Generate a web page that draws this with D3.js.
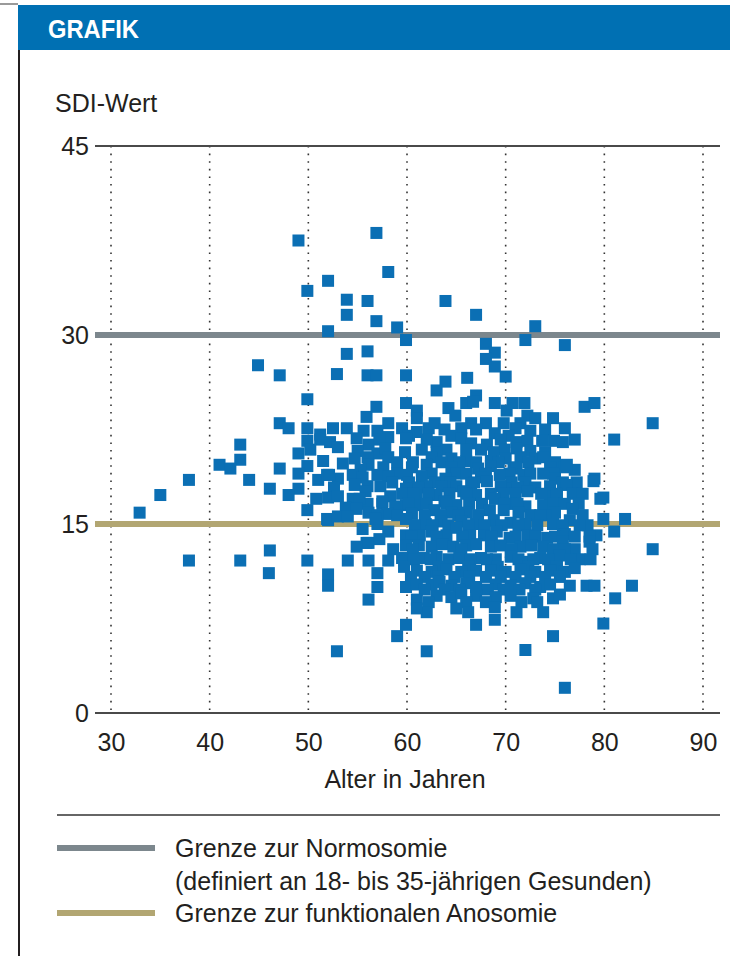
<!DOCTYPE html>
<html><head><meta charset="utf-8">
<script src="https://cdn.jsdelivr.net/npm/d3@7"></script>
<style>
html,body{margin:0;padding:0;background:#fff;}
svg{display:block;}
text{font-family:"Liberation Sans","Arial",sans-serif;fill:#231f20;}
</style></head>
<body>
<svg id="chart" width="730" height="956"></svg>
<script>
// ---- data ----
const title = "GRAFIK";
const yAxisTitle = "SDI-Wert";
const xAxisTitle = "Alter in Jahren";
const xTicks = [30, 40, 50, 60, 70, 80, 90];
const yTicks = [0, 15, 30, 45];
const thresholdNormosmie = 30;
const thresholdAnosmie = 15;
const legendLabels = [
  ["Grenze zur Normosomie", "(definiert an 18- bis 35-jährigen Gesunden)"],
  ["Grenze zur funktionalen Anosomie"]
];
// [age, SDI]
const upperPoints = [
  [49.0,37.5],[56.9,38.1],[58.1,35.0],[52.0,34.3],[49.9,33.5],[53.9,32.8],[56.0,32.7],[63.9,32.7],
  [53.9,31.6],[67.0,31.6],[56.9,31.1],[59.0,30.6],[52.0,30.3],[73.0,30.7],[59.9,29.6],[68.0,29.3],
  [72.0,29.6],[76.0,29.2],[68.9,28.6],[53.9,28.5],[56.0,28.7],[68.0,28.1],[44.9,27.6],[68.9,27.5],
  [52.9,26.9],[47.1,26.8],[56.0,26.8],[56.9,26.8],[59.9,26.8],[70.0,26.7],[66.1,26.6],[63.9,26.3],
  [63.0,25.6],[67.0,25.2],[49.9,24.9]
];
const midPoints = [
  [56.9,24.3],[59.9,24.6],[61.0,24.0],[66.0,24.6],[66.7,24.7],[68.9,24.6],[70.1,24.0],[70.7,24.6],[71.9,24.6],[78.0,24.3],[79.0,24.6],
  [64.2,24.2],[72.2,23.6],
  [47.1,23.0],[55.9,23.5],[58.1,23.0],[61.0,23.4],[62.2,22.6],[64.9,23.6],[73.0,23.4],[74.8,23.4],[84.9,23.0],
  [62.8,23.0],[66.5,23.0],[68.0,23.0],[69.8,23.0],[71.5,23.0],
  [48.0,22.6],[49.9,22.6],[51.2,22.1],[53.9,22.6],[67.0,22.5],[68.9,22.2],[71.0,22.6],[76.0,22.6],
  [57.0,22.4],[59.5,22.6],[63.8,22.5],[65.5,22.6],[72.5,22.4],[74.0,22.5],[61.0,22.3],[52.5,22.6],[55.6,22.4],
  [60.2,22.0],[64.5,22.0],[70.3,22.0],
  [43.1,21.3],[49.9,21.6],[51.2,21.7],[54.9,21.8],[56.1,21.3],[58.1,21.9],[59.9,21.8],[63.0,21.5],[68.1,21.3],
  [71.1,21.5],[73.7,21.6],[74.9,21.6],[77.0,21.7],[81.0,21.7],
  [62.0,21.7],[65.5,21.8],[66.5,21.4],[69.5,21.7],[72.2,21.6],[75.8,21.5],[52.2,21.5],[57.2,21.7],
  [53.0,21.1],[64.0,20.9],[66.0,20.9],[69.9,20.9],[71.1,21.0],[49.0,20.6],[50.2,20.9],
  [67.5,20.9],[72.5,20.8],[61.5,20.9],[57.0,20.6],[55.0,20.8],[57.8,21.0],
  [59.8,20.7],[63.0,20.7],[68.8,20.7],[74.0,20.7],
  [43.1,20.1],[54.7,20.2],[58.1,20.3],[59.0,19.9],[73.0,20.2],[73.8,20.3],[41.0,19.7],
  [66.0,20.0],[68.5,20.0],[70.0,20.2],[71.5,20.3],[62.5,20.3],[64.5,20.2],[56.0,20.3],[51.5,20.0],[53.5,19.8],
  [60.6,19.9],[63.5,19.9],[65.3,19.9],[67.0,19.9],[69.3,19.9],[72.3,19.9],[75.0,19.9],
  [42.1,19.4],[47.1,19.4],[56.1,19.7],[62.0,19.7],[67.2,19.4],[70.8,19.4],[71.1,19.5],[76.0,19.5],[77.0,19.3],[76.2,19.7],[49.9,19.6],
  [60.5,19.5],[64.5,19.5],[68.5,19.6],[74.5,19.5],[55.3,19.3],[57.6,19.5],
  [59.0,19.0],[62.5,19.0],[65.0,19.0],[68.0,19.0],[70.4,19.0],[74.8,19.0],
  [44.0,18.5],[37.9,18.5],[49.0,19.0],[51.0,18.5],[51.9,18.9],[53.0,18.6],[57.0,18.9],[58.1,18.8],[60.0,18.9],[61.5,18.8],
  [63.9,18.6],[66.0,19.0],[69.4,18.9],[71.8,18.9],[72.5,19.0],[73.8,19.0],[79.0,18.6],[52.1,18.9],
  [67.5,18.7],[54.5,18.9],[55.5,18.7],[75.0,18.6],[58.5,18.3],
  [60.2,18.3],[62.8,18.3],[64.4,18.3],[66.8,18.3],[70.6,18.3],[72.0,18.3],[75.8,18.3],[77.2,18.3],
  [46.1,17.8],[49.0,17.8],[54.7,18.1],[56.0,18.0],[59.9,17.8],[62.0,18.0],[65.0,18.0],[68.1,18.4],[76.2,18.1],[78.9,18.4],[70.0,17.8],[48.0,17.3],
  [57.3,18.0],[61.2,17.9],[63.5,18.0],[66.5,18.2],[69.5,18.0],[71.2,17.9],[73.0,17.9],[74.5,18.0],[52.6,17.9],
  [35.0,17.3],[52.0,17.1],[55.8,17.6],[58.3,17.2],[61.0,17.3],[65.7,17.6],[67.0,17.3],[72.2,17.6],[79.9,17.1],[53.0,17.2],[63.0,17.3],[74.5,17.2],
  [59.5,17.4],[60.7,17.4],[62.2,17.4],[64.3,17.4],[66.0,17.4],[68.5,17.4],[69.8,17.4],[71.0,17.4],[73.6,17.4],[75.2,17.4],[76.8,17.4],[77.8,17.4],
  [54.5,17.0],[49.9,16.1],[58.8,16.4],[59.9,16.5],[63.8,16.8],[65.0,16.5],[68.9,17.0],[73.8,16.5],[79.6,17.0],[56.0,16.6],[61.0,16.5],[70.5,16.6],[72.0,16.4],
  [55.2,17.0],[57.5,16.8],[50.8,17.0],[53.8,16.3],
  [57.5,16.6],[60.2,16.6],[62.0,16.6],[64.0,16.6],[66.3,16.6],[67.6,16.6],[69.9,16.6],[71.2,16.6],[74.8,16.6],[76.0,16.6],[77.4,16.6],
  [32.9,15.9],[54.9,16.2],[56.1,15.9],[62.8,16.1],[66.0,15.9],[68.4,16.1],[69.8,16.1],[71.3,15.9],[76.8,16.2],[58.0,15.8],[60.5,15.8],[64.5,15.9],[75.0,15.9]
];
const lowerPoints = [
  [59.0,15.7],[61.8,15.7],[63.4,15.7],[65.2,15.7],[67.2,15.7],[72.5,15.7],[74.0,15.7],[77.8,15.7],[57.0,15.7],
  [51.9,15.4],[52.0,15.3],[53.0,15.6],[54.0,15.6],[59.9,15.4],[61.9,15.0],[73.5,15.7],[76.5,15.3],[79.9,15.4],[82.1,15.4],
  [57.0,15.0],[63.5,15.2],[65.5,15.2],[67.0,15.0],[68.8,15.3],[70.5,15.1],[72.0,15.0],[74.8,15.0],[56.8,15.4],
  [60.8,14.9],[62.6,14.9],[64.2,14.9],[66.2,14.9],[67.9,14.9],[69.6,14.9],[71.3,14.9],[73.2,14.9],[75.8,14.9],[78.3,14.9],
  [58.1,14.4],[61.3,14.1],[64.0,14.1],[65.0,14.7],[59.9,14.1],[66.4,14.1],[67.8,14.1],[69.1,14.4],[70.4,13.9],[72.2,14.1],
  [74.2,13.9],[77.5,14.9],[79.2,14.1],[81.0,14.4],[78.5,14.0],[62.5,14.4],[76.0,14.2],[55.5,14.6],
  [60.5,14.0],[63.0,14.0],[65.6,14.0],[68.6,14.0],[71.0,14.0],[73.0,14.0],[75.0,14.0],[77.0,14.0],
  [55.9,13.5],[54.9,13.2],[59.9,13.3],[75.8,13.6],[78.5,13.6],[84.9,13.0],[61.2,13.3],[62.5,13.2],[63.6,13.4],[64.7,13.2],
  [66.0,13.3],[67.0,13.4],[68.5,13.2],[69.5,13.3],[71.5,13.2],[72.6,13.3],[73.8,13.2],[77.0,13.0],[56.1,13.5],
  [57.2,13.8],[58.6,13.0],
  [60.6,13.0],[65.5,13.0],[70.6,13.0],[74.8,13.0],[76.0,13.0],[78.8,13.0],
  [46.1,12.9],[37.9,12.1],[43.1,12.1],[49.9,12.1],[54.0,12.1],[56.1,12.1],[58.1,12.1],[59.5,12.3],[61.7,12.3],[63.0,12.4],
  [64.2,12.2],[65.3,12.3],[67.5,12.3],[69.0,12.2],[70.5,12.4],[73.5,12.3],[77.5,12.2],[72.0,12.0],[75.5,12.5],
  [60.7,12.2],[62.4,12.2],[66.4,12.2],[68.1,12.2],[71.3,12.2],[72.8,12.2],[74.3,12.2],[76.6,12.2],[78.6,12.2],
  [59.7,11.6],[63.2,11.6],[66.2,11.6],[69.2,11.6],[72.3,11.6],[75.2,11.6],
  [46.0,11.1],[52.0,11.0],[57.0,11.1],[61.0,11.3],[62.5,11.2],[64.0,11.4],[65.5,11.2],[67.0,11.3],[68.5,11.3],[70.0,11.2],
  [71.5,11.4],[73.0,11.2],[74.5,11.3],[76.0,11.2],[77.0,11.5],
  [60.4,10.8],[61.8,10.8],[63.2,10.8],[64.8,10.8],[66.3,10.8],[68.0,10.8],[69.5,10.8],[71.0,10.8],[72.5,10.8],[74.0,10.8],[75.5,10.8],
  [52.0,10.1],[57.0,10.0],[59.9,10.0],[61.0,10.2],[62.5,10.2],[64.5,10.1],[66.0,10.3],[67.0,10.0],[69.0,10.2],[70.5,10.1],
  [72.0,10.3],[73.5,10.0],[74.5,10.2],[76.5,10.1],[78.2,10.1],[79.0,10.1],[82.8,10.1],[63.3,10.4],
  [61.8,9.8],[63.8,9.8],[65.3,9.8],[68.2,9.8],[69.8,9.8],[71.4,9.8],[73.0,9.8],
  [56.1,9.0],[61.0,9.0],[63.0,9.3],[64.5,9.2],[67.0,9.3],[69.0,9.2],[70.5,9.3],[72.8,9.1],[74.8,9.1],[75.5,9.4],[81.1,9.1],[65.5,9.5],
  [62.2,8.8],[66.0,8.8],[68.0,8.8],[71.6,8.8],[73.2,8.8],
  [62.0,8.0],[61.0,8.3],[65.0,8.3],[66.2,8.0],[68.9,8.4],[71.1,8.0],[73.8,8.0],
  [59.9,7.0],[67.0,7.0],[68.9,7.4],[79.9,7.1],
  [59.0,6.1],[74.8,6.1],
  [52.9,4.9],[62.0,4.9],[72.0,5.0],
  [76.0,2.0]
];
const points = upperPoints.concat(midPoints, lowerPoints);

// ---- colours ----
const headerBlue = "#0070b3";
const markerBlue = "#0b6fb4";
const grayLine = "#7c878d";
const tanLine = "#b2a672";
const fs = "25px";

const svg = d3.select("#chart");

// header
svg.append("rect").attr("x", 0).attr("y", 3).attr("width", 18).attr("height", 2).attr("fill", "#9a9a9a");
svg.append("rect").attr("x", 18).attr("y", 5).attr("width", 712).attr("height", 45).attr("fill", headerBlue);
svg.append("text").attr("x", 48).attr("y", 38).text(title)
  .style("fill", "#fff").style("font-weight", "bold").style("font-size", "26px")
  .attr("textLength", 91).attr("lengthAdjust", "spacingAndGlyphs");
// left frame line
svg.append("rect").attr("x", 18).attr("y", 50).attr("width", 2).attr("height", 906).attr("fill", "#231f20");

// scales
const x = d3.scaleLinear().domain([30, 90]).range([111, 703]);
const y = d3.scaleLinear().domain([0, 45]).range([713, 146]);
const plotLeft = 95, plotRight = 720;

// y axis title
svg.append("text").attr("x", 55).attr("y", 112).text(yAxisTitle).style("font-size", fs);

// dotted verticals
svg.append("g").selectAll("line").data(xTicks).join("line")
  .attr("x1", d => x(d)).attr("x2", d => x(d))
  .attr("y1", y(45)).attr("y2", y(0))
  .attr("stroke", "#333").attr("stroke-width", 1.6).attr("stroke-dasharray", "1.6 6");

// top and bottom lines
[45, 0].forEach(v => {
  svg.append("line").attr("x1", plotLeft).attr("x2", plotRight).attr("y1", y(v)).attr("y2", y(v))
    .attr("stroke", "#4a4a4a").attr("stroke-width", 2);
});

// y tick labels
svg.append("g").selectAll("text").data(yTicks).join("text")
  .attr("x", 89).attr("y", d => y(d)).attr("dy", "0.36em").attr("text-anchor", "end")
  .style("font-size", fs).text(d => d);

// x axis via d3.axisBottom (labels only)
const xAxis = svg.append("g").attr("transform", `translate(0,${y(0)})`)
  .call(d3.axisBottom(x).tickValues(xTicks).tickSize(0).tickPadding(20));
xAxis.select(".domain").remove();
xAxis.selectAll("text").style("font-size", fs).style("font-family", "Liberation Sans, Arial, sans-serif").attr("fill", "#231f20");

svg.append("text").attr("x", 405).attr("y", 788).attr("text-anchor", "middle")
  .style("font-size", fs).text(xAxisTitle);

// threshold lines
svg.append("line").attr("x1", plotLeft).attr("x2", plotRight)
  .attr("y1", y(thresholdNormosmie)).attr("y2", y(thresholdNormosmie))
  .attr("stroke", grayLine).attr("stroke-width", 6);
svg.append("line").attr("x1", plotLeft).attr("x2", plotRight)
  .attr("y1", y(thresholdAnosmie)).attr("y2", y(thresholdAnosmie))
  .attr("stroke", tanLine).attr("stroke-width", 6);

// points (drawn above the threshold lines)
const s = 12;
svg.append("g").selectAll("rect").data(points).join("rect")
  .attr("x", d => x(d[0]) - s / 2).attr("y", d => y(d[1]) - s / 2)
  .attr("width", s).attr("height", s).attr("fill", markerBlue);

// legend
svg.append("line").attr("x1", 57).attr("x2", 720).attr("y1", 815).attr("y2", 815)
  .attr("stroke", "#333").attr("stroke-width", 1.5);
const legColors = [grayLine, tanLine];
const legY = [848, 913];
legendLabels.forEach((lines, i) => {
  svg.append("rect").attr("x", 57).attr("y", legY[i] - 3).attr("width", 98).attr("height", 6).attr("fill", legColors[i]);
  lines.forEach((t, j) => {
    svg.append("text").attr("x", 175).attr("y", legY[i] + j * 32.5).attr("dy", "0.36em")
      .style("font-size", fs).text(t);
  });
});
</script>
</body></html>
